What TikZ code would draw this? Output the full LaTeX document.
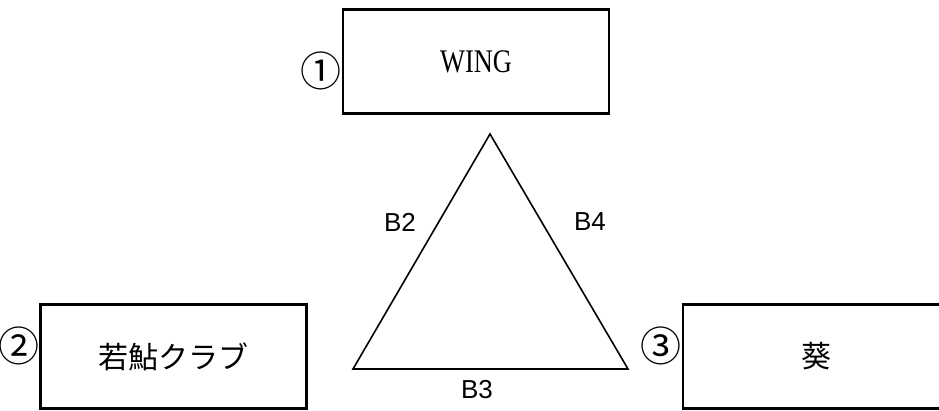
\documentclass[tikz,border=0pt]{standalone}
\usepackage{fontspec}
\setmainfont{Liberation Serif}
\setsansfont{Liberation Sans}
\newfontfamily\jpfont{Noto Sans CJK JP}
\usetikzlibrary{positioning}
\tikzset{
  club/.style={draw, line width=2.6pt, inner sep=0pt,
               minimum width=266pt, minimum height=104pt},
  num/.style={inner sep=0pt, font=\jpfont\fontsize{41}{41}\selectfont},
  side/.style={inner sep=0pt, font=\sffamily\fontsize{26}{26}\selectfont},
  tri/.style={draw, line width=1.6pt, line join=miter},
}

\begin{document}
\begin{tikzpicture}[x=1pt, y=-1pt]
  \useasboundingbox (0,0) rectangle (939,410);
  \clip (0,0) rectangle (939,410);
  % the three clubs
  \node[club, font=\fontsize{33}{33}\selectfont] (wing) at (476,61.5) {\scalebox{0.8}[1]{WING}};
  \node[club, font=\jpfont\fontsize{30}{30}\selectfont] (ayu) at (173.5,356.5) {若鮎クラブ};
  \node[club, font=\jpfont\fontsize{30}{30}\selectfont] (aoi) at (816,356.5) {葵};
  \node[num, anchor=east] (n1) at (342,71) {①};
  \node[num, anchor=east] (n2) at (40,346) {②};
  \node[num, anchor=east] (n3) at (682,346) {③};
  % triangle
  \coordinate (top) at (490,134);
  \coordinate (bl) at (353,369);
  \coordinate (br) at (628,369);
  \draw[tri] (top) -- (bl) -- (br) -- cycle;
  \node[side] (b2) at (400,222) {B2};
  \node[side] (b4) at (590,222) {B4};
  \node[side] (b3) at (477,390) {B3};
\end{tikzpicture}
\end{document}
